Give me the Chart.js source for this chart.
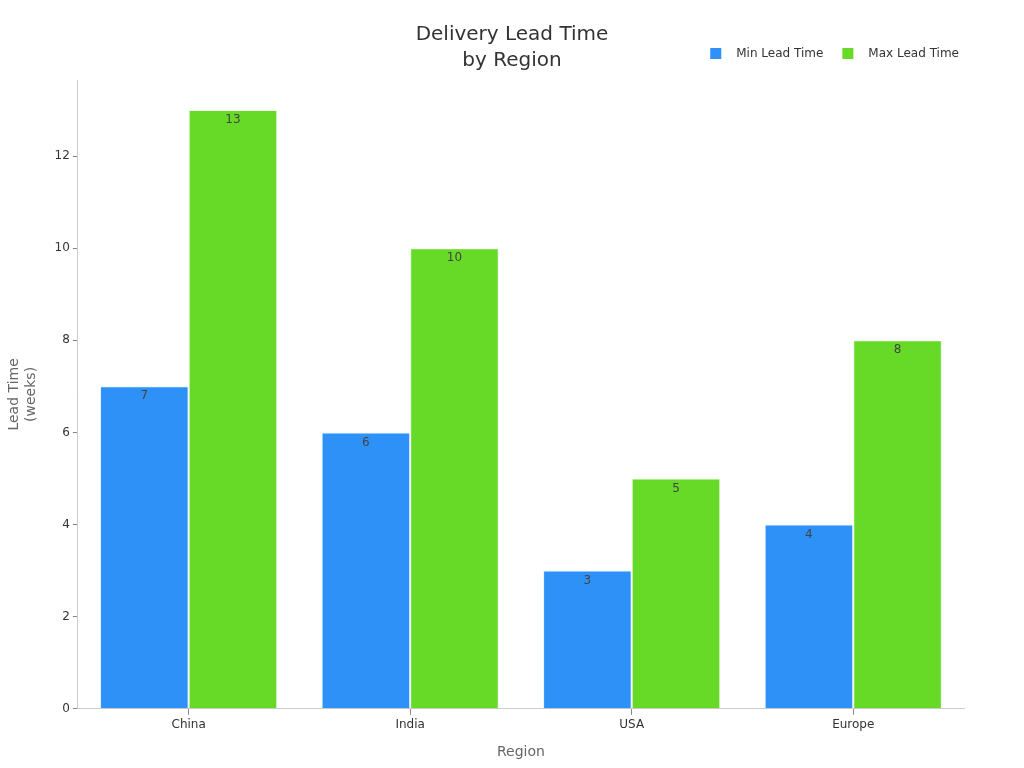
<!DOCTYPE html>
<html>
<head>
<meta charset="utf-8">
<script src="https://cdn.jsdelivr.net/npm/chart.js@4/dist/chart.umd.min.js"></script>
<style>
  html, body { margin: 0; padding: 0; background: #fff; }
  #wrap { width: 1024px; height: 768px; }
</style>
</head>
<body>
<div id="wrap"><canvas id="leadChart"></canvas></div>
<script>
const regions = ['China', 'India', 'USA', 'Europe'];
const minLead = [7, 6, 3, 4];
const maxLead = [13, 10, 5, 8];
const seriesColors = ['#2E91F8', '#66DA26'];

// title + legend drawn by hand so they can share the top row
const headerPlugin = {
  id: 'header',
  afterDraw(chart) {
    const ctx = chart.ctx;
    ctx.save();
    ctx.font = '20px "DejaVu Sans"';
    ctx.fillStyle = '#333';
    ctx.textAlign = 'center';
    ctx.textBaseline = 'middle';
    ctx.fillText('Delivery Lead Time', 512, 35);
    ctx.fillText('by Region', 512, 61);

    // legend, laid out right to left from the right edge
    ctx.font = '12px "DejaVu Sans"';
    ctx.textAlign = 'left';
    let x = 959;
    const items = chart.data.datasets.map(d => d.label);
    const widths = items.map(t => ctx.measureText(t).width);
    const starts = [];
    for (let i = items.length - 1; i >= 0; i--) {
      x -= widths[i];
      const textX = x;
      x -= 15 + 11;
      starts[i] = { box: x, text: textX };
      x -= 19;
    }
    items.forEach((t, i) => {
      ctx.fillStyle = chart.data.datasets[i].backgroundColor;
      ctx.fillRect(starts[i].box, 48, 11, 11);
      ctx.fillStyle = '#333';
      ctx.fillText(t, starts[i].text, 54);
    });
    ctx.restore();
  }
};

// value labels just inside the top of each bar
const valueLabels = {
  id: 'valueLabels',
  afterDatasetsDraw(chart) {
    const ctx = chart.ctx;
    ctx.save();
    ctx.font = '12px "DejaVu Sans"';
    ctx.fillStyle = '#444';
    ctx.textAlign = 'center';
    ctx.textBaseline = 'middle';
    chart.data.datasets.forEach((ds, i) => {
      chart.getDatasetMeta(i).data.forEach((bar, j) => {
        ctx.fillText(ds.data[j], bar.x, bar.y + 10);
      });
    });
    ctx.restore();
  }
};

const ctx = document.getElementById('leadChart').getContext('2d');
new Chart(ctx, {
  type: 'bar',
  data: {
    labels: regions,
    datasets: [
      {
        label: 'Min Lead Time',
        data: minLead,
        backgroundColor: seriesColors[0],
        borderColor: '#E8F2FF',
        borderWidth: 1
      },
      {
        label: 'Max Lead Time',
        data: maxLead,
        backgroundColor: seriesColors[1],
        borderColor: '#EEFBE6',
        borderWidth: 1
      }
    ]
  },
  options: {
    responsive: true,
    maintainAspectRatio: false,
    animation: false,
    layout: { padding: { top: 80, right: 60, left: 2, bottom: 3 } },
    datasets: { bar: { categoryPercentage: 0.8, barPercentage: 1.0 } },
    plugins: {
      title: { display: false },
      tooltip: { enabled: false },
      legend: { display: false }
    },
    scales: {
      x: {
        grid: { display: true, drawOnChartArea: false, offset: false, tickLength: 6, color: '#888' },
        border: { color: '#ccc' },
        ticks: { font: { family: 'DejaVu Sans', size: 12 }, color: '#333' },
        title: {
          display: true,
          text: 'Region',
          font: { family: 'DejaVu Sans', size: 14 },
          color: '#666',
          padding: { top: 9 }
        }
      },
      y: {
        min: 0,
        max: 13.65,
        // keep only the even ticks (drops the odd max bound)
        afterBuildTicks: axis => {
          axis.ticks = axis.ticks.filter(t => t.value % 2 === 0);
        },
        grid: { display: true, drawOnChartArea: false, tickLength: 5, color: '#888' },
        border: { color: '#ccc' },
        ticks: {
          stepSize: 2,
          font: { family: 'DejaVu Sans', size: 12 },
          color: '#333'
        },
        title: {
          display: true,
          text: ['Lead Time', '(weeks)'],
          font: { family: 'DejaVu Sans', size: 14 },
          color: '#666',
          padding: { bottom: 12 }
        }
      }
    }
  },
  plugins: [headerPlugin, valueLabels]
});
</script>
</body>
</html>
